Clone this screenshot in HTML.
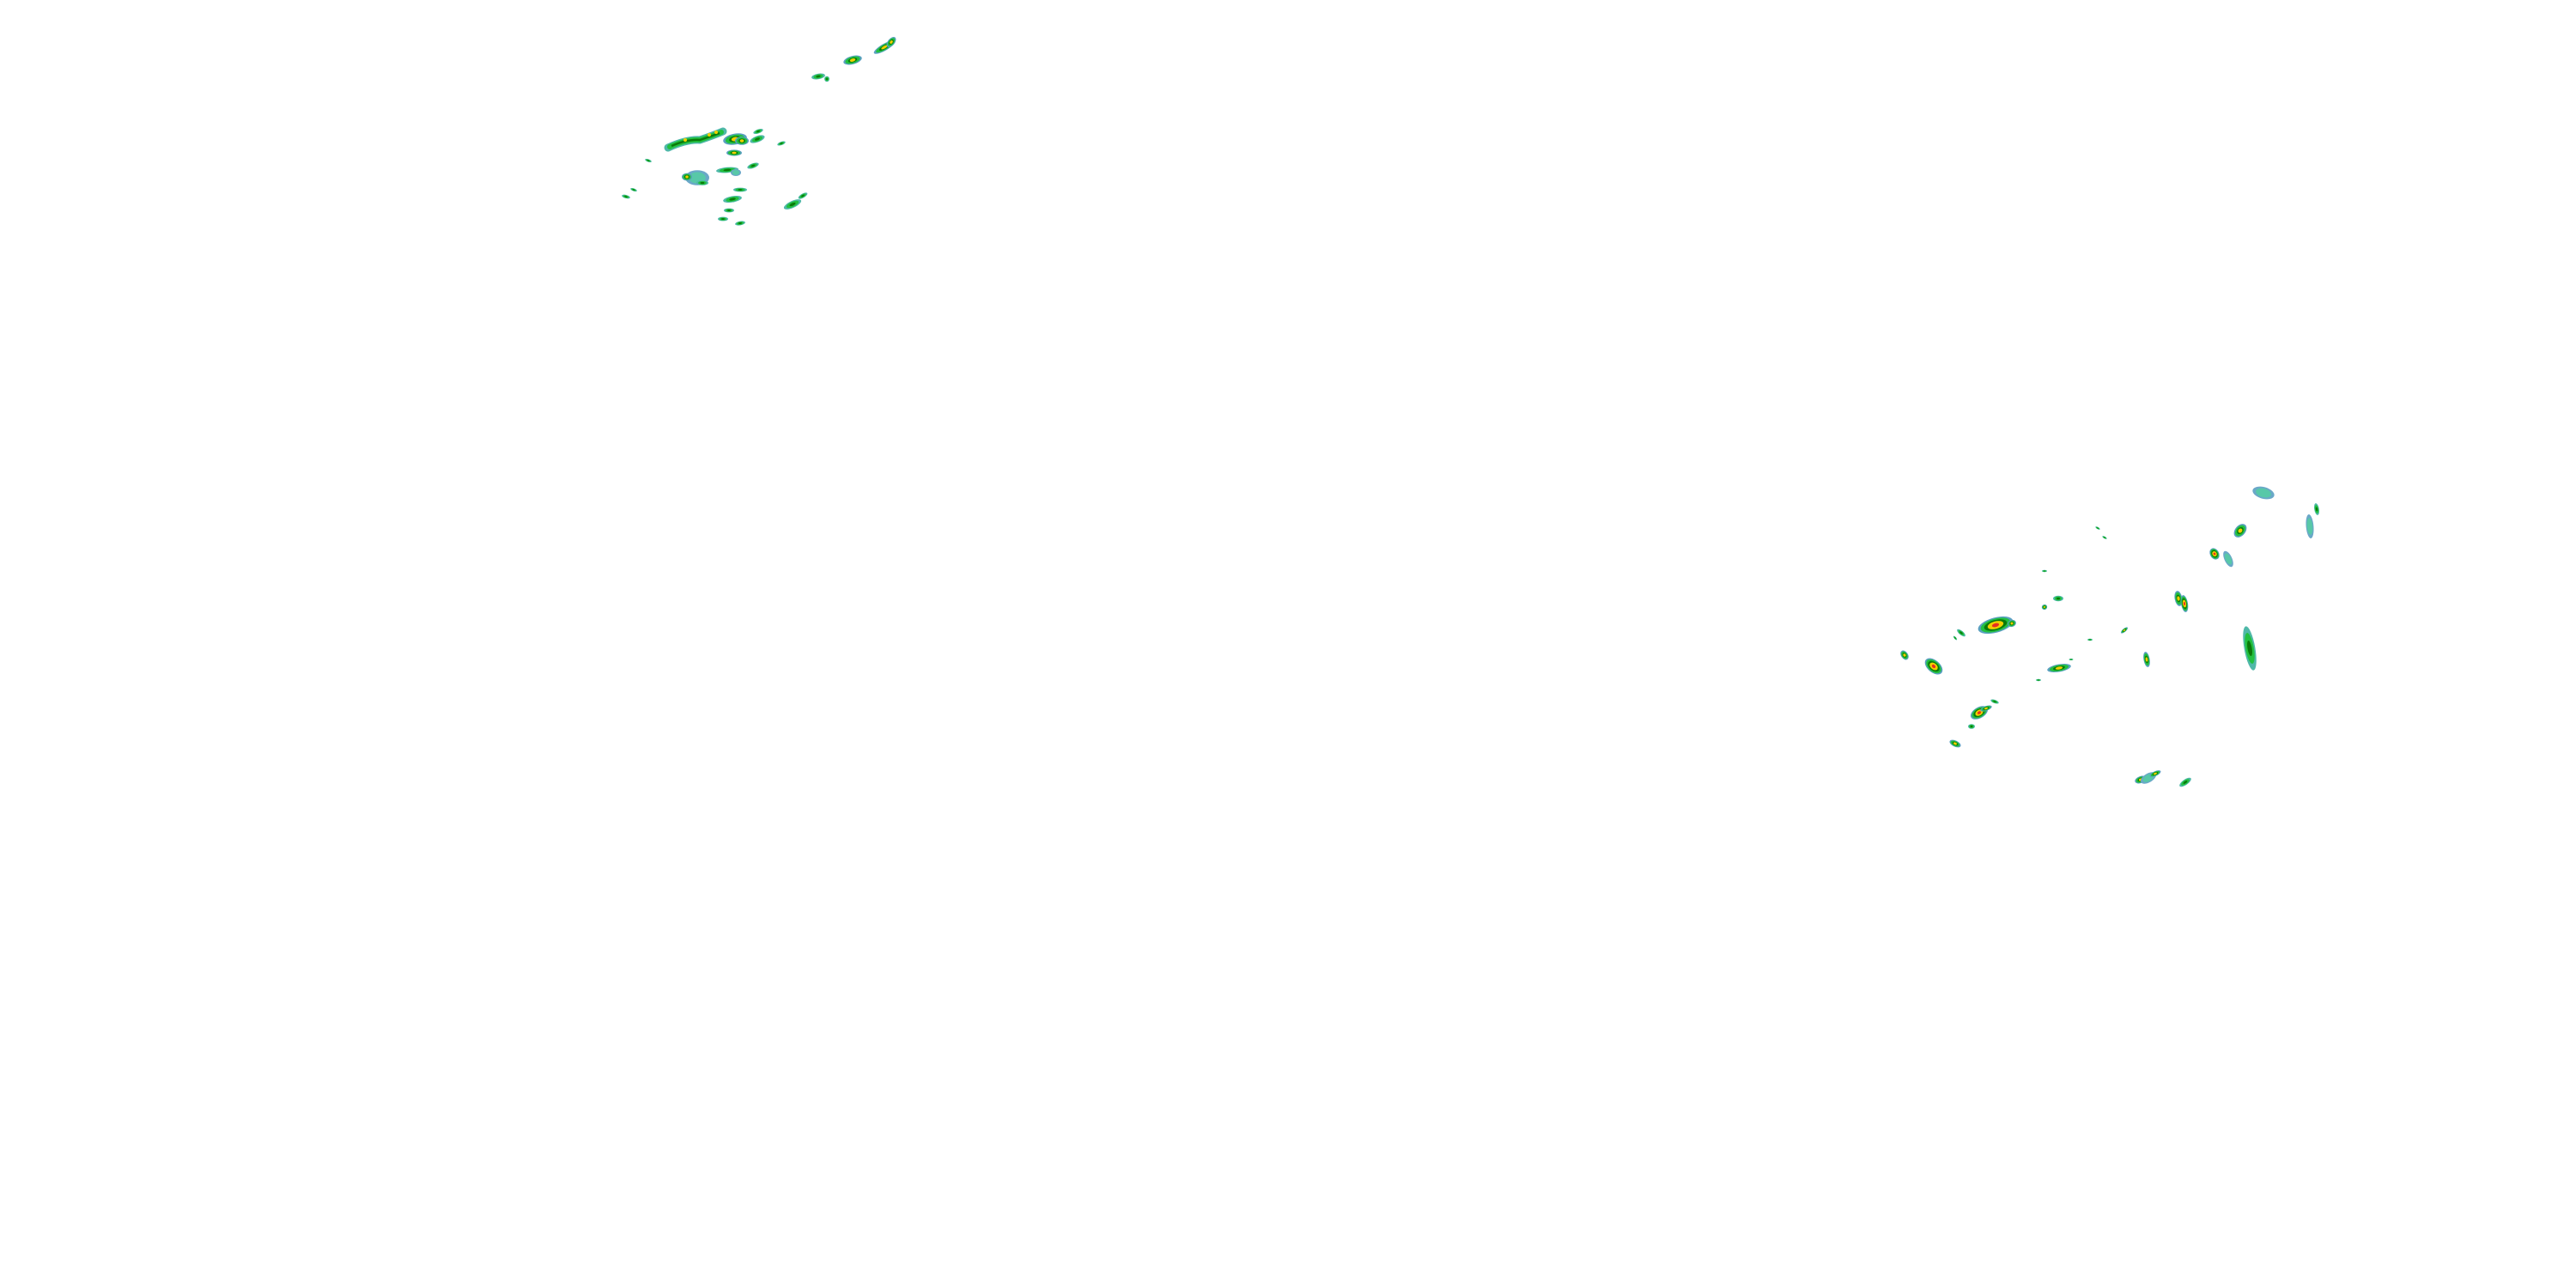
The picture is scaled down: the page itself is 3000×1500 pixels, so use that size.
<!DOCTYPE html>
<html><head><meta charset="utf-8"><style>
html,body{margin:0;padding:0;background:#fff;}
svg{display:block;}
</style></head><body>
<svg width="3000" height="1500" viewBox="0 0 3000 1500" xmlns="http://www.w3.org/2000/svg">
<defs>
<g id="b"><ellipse rx="10" ry="4" fill="#4fb8a8"/><ellipse rx="7" ry="3" fill="#22c040"/><ellipse rx="3.5" ry="1.6" fill="#0a7a0a"/></g>
<g id="s"><ellipse rx="10" ry="4" fill="#5aa0c0"/><ellipse rx="8" ry="3.2" fill="#22c040"/><ellipse rx="5" ry="2.2" fill="#0a7a0a"/><ellipse rx="3" ry="1.5" fill="#f0d000"/></g>
<g id="r"><ellipse rx="10" ry="4" fill="#5aa0c0"/><ellipse rx="8.5" ry="3.4" fill="#22c040"/><ellipse rx="6.5" ry="2.7" fill="#0a7a0a"/><ellipse rx="4.5" ry="2" fill="#f0d000"/><ellipse rx="2" ry="1" fill="#e83020"/></g>
<g id="t"><ellipse rx="10" ry="4" fill="#6aa8c8"/><ellipse rx="7" ry="3" fill="#58c8a8"/></g>
</defs>
<!-- top-left cluster -->
<g>
<path d="M778,172 Q800,162 815,163 Q830,158 842,153" stroke="#4fb8a8" stroke-width="9" fill="none" stroke-linecap="round"/>
<path d="M780,171 Q800,162 815,163 Q830,158 840,154" stroke="#22c040" stroke-width="6" fill="none" stroke-linecap="round"/>
<path d="M782,170 Q800,162 815,163 Q830,158 838,155" stroke="#0a7a0a" stroke-width="2.5" fill="none"/>
<circle cx="798" cy="163" r="2" fill="#f0d000"/><circle cx="826" cy="157" r="2" fill="#f0d000"/><circle cx="834" cy="154" r="2" fill="#f0d000"/>
<use href="#s" transform="translate(856,162) rotate(-10) scale(1.4,1.6)"/>
<use href="#s" transform="translate(864,164) scale(0.8,1.2)"/>
<use href="#b" transform="translate(882,162) rotate(-20) scale(0.9)"/>
<use href="#s" transform="translate(855,178) scale(0.9,0.9)"/>
<use href="#t" transform="translate(812,207) scale(1.4,2.2)"/>
<use href="#s" transform="translate(800,206) scale(0.6,1.1)"/>
<use href="#b" transform="translate(818,213) scale(0.7)"/>
<use href="#b" transform="translate(847,198) rotate(-5) scale(1.3,0.8)"/>
<use href="#t" transform="translate(857,201) scale(0.6,1)"/>
<use href="#b" transform="translate(877,193) rotate(-20) scale(0.7)"/>
<use href="#b" transform="translate(853,232) rotate(-10) scale(1.1,0.9)"/>
<use href="#b" transform="translate(923,238) rotate(-25) scale(1.1,1)"/>
<use href="#b" transform="translate(849,245) scale(0.6)"/>
<use href="#b" transform="translate(842,255) scale(0.6)"/>
<use href="#b" transform="translate(862,260) rotate(-10) scale(0.6)"/>
<use href="#b" transform="translate(755,187) rotate(20) scale(0.4)"/>
<use href="#b" transform="translate(729,229) rotate(15) scale(0.5)"/>
<use href="#b" transform="translate(738,221) rotate(20) scale(0.4)"/>
<use href="#b" transform="translate(862,221) scale(0.8,0.6)"/>
<use href="#b" transform="translate(935,228) rotate(-30) scale(0.6)"/>
<use href="#b" transform="translate(910,167) rotate(-20) scale(0.5)"/>
<use href="#b" transform="translate(883,153) rotate(-20) scale(0.6)"/>
<use href="#s" transform="translate(1030,55) rotate(-30) scale(1.4,1)"/>
<use href="#s" transform="translate(1038,49) rotate(-50) scale(0.7,1)"/>
<use href="#s" transform="translate(993,70) rotate(-15) scale(1.1,1.2)"/>
<use href="#b" transform="translate(953,89) rotate(-10) scale(0.8)"/>
<use href="#b" transform="translate(963,92) scale(0.3,0.8)"/>
</g>
<!-- right cluster -->
<g>
<use href="#t" transform="translate(2636,574) rotate(15) scale(1.3,1.7)"/>
<use href="#t" transform="translate(2690,613) rotate(85) scale(1.4,1.1)"/>
<use href="#b" transform="translate(2698,593) rotate(80) scale(0.7)"/>
<use href="#s" transform="translate(2609,618) rotate(-50) scale(0.9,1.5)"/>
<use href="#r" transform="translate(2579,645) rotate(60) scale(0.7,1.3)"/>
<use href="#t" transform="translate(2595,651) rotate(65) scale(1,1.1)"/>
<use href="#s" transform="translate(2537,697) rotate(80) scale(0.9,1.1)"/>
<use href="#r" transform="translate(2544,703) rotate(80) scale(1,1)"/>
<use href="#b" transform="translate(2620,755) rotate(80) scale(2.6,1.6)"/>
<use href="#s" transform="translate(2500,768) rotate(80) scale(0.9,0.9)"/>
<use href="#s" transform="translate(2474,734) rotate(-40) scale(0.5)"/>
<use href="#r" transform="translate(2324,728) rotate(-15) scale(2.1,2.2)"/>
<use href="#s" transform="translate(2343,726) rotate(-20) scale(0.5,1)"/>
<use href="#b" transform="translate(2284,737) rotate(40) scale(0.6)"/>
<use href="#b" transform="translate(2277,743) rotate(50) scale(0.3)"/>
<use href="#s" transform="translate(2218,763) rotate(55) scale(0.6,1)"/>
<use href="#r" transform="translate(2252,776) rotate(40) scale(1.2,1.8)"/>
<use href="#s" transform="translate(2398,778) rotate(-10) scale(1.4,1.1)"/>
<use href="#r" transform="translate(2305,830) rotate(-30) scale(1.1,1.6)"/>
<use href="#s" transform="translate(2313,825) rotate(-20) scale(0.7)"/>
<use href="#b" transform="translate(2323,817) rotate(20) scale(0.5)"/>
<use href="#b" transform="translate(2296,846) scale(0.4,0.7)"/>
<use href="#s" transform="translate(2277,866) rotate(25) scale(0.7,0.9)"/>
<use href="#s" transform="translate(2493,908) rotate(-20) scale(0.7,1)"/>
<use href="#t" transform="translate(2502,906) rotate(-30) scale(1,1.3)"/>
<use href="#s" transform="translate(2510,901) rotate(-25) scale(0.7)"/>
<use href="#b" transform="translate(2545,911) rotate(-35) scale(0.8,0.8)"/>
<use href="#b" transform="translate(2397,697) scale(0.6,0.8)"/>
<use href="#s" transform="translate(2381,707) rotate(60) scale(0.3,0.8)"/>
<use href="#b" transform="translate(2381,665) scale(0.3)"/>
<use href="#b" transform="translate(2443,615) rotate(30) scale(0.3)"/>
<use href="#b" transform="translate(2451,626) rotate(30) scale(0.3)"/>
<use href="#b" transform="translate(2434,745) scale(0.3)"/>
<use href="#b" transform="translate(2374,792) scale(0.3)"/>
<use href="#b" transform="translate(2412,768) scale(0.25)"/>
</g>
</svg>
</body></html>
